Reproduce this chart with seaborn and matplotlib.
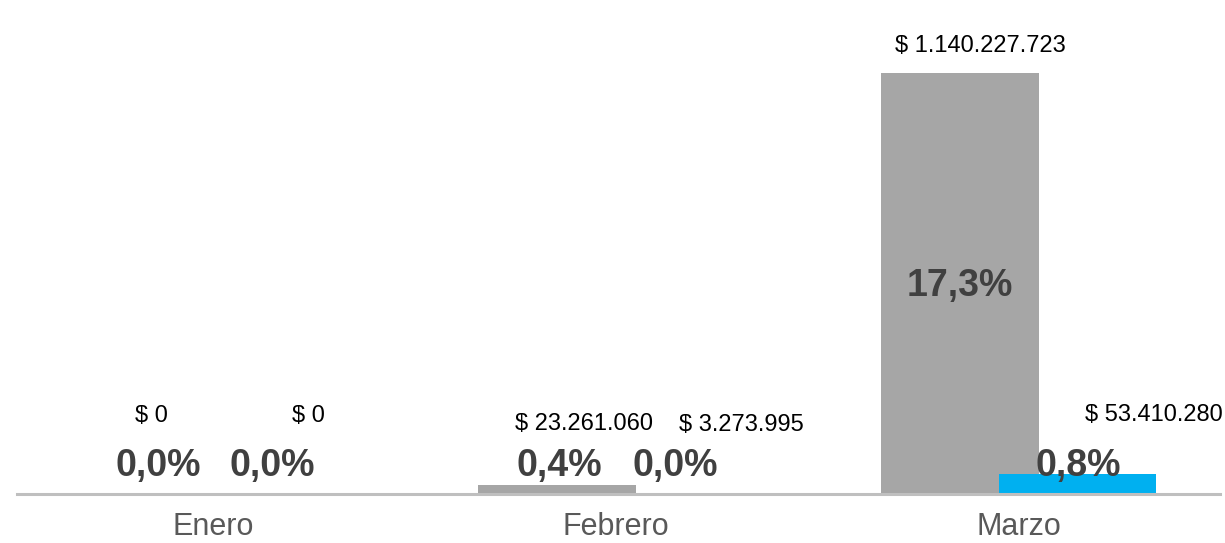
import pandas as pd
import seaborn as sns
import matplotlib.pyplot as plt

# --- datos ---
meses = ['Enero', 'Febrero', 'Marzo']
series = ['Serie 1', 'Serie 2']
valores_s1 = [0, 23261060, 1140227723]
valores_s2 = [0, 3273995, 53410280]
etiquetas_s1 = ['$ 0', '$ 23.261.060', '$ 1.140.227.723']
etiquetas_s2 = ['$ 0', '$ 3.273.995', '$ 53.410.280']
pct_s1 = ['0,0%', '0,4%', '17,3%']
pct_s2 = ['0,0%', '0,0%', '0,8%']

colores = ['#A6A6A6', '#00B0F0']

df = pd.DataFrame({
    'mes': meses * 2,
    'serie': [series[0]] * 3 + [series[1]] * 3,
    'valor': valores_s1 + valores_s2,
})

sns.set_style('white')
plt.rcParams['font.family'] = ['Liberation Sans', 'DejaVu Sans']

fig = plt.figure(figsize=(12.25, 5.43), dpi=100)
ax = fig.add_axes([17 / 1225, 1 - 494 / 543, 1203 / 1225, 494 / 543])

sns.barplot(data=df, x='mes', y='valor', hue='serie', palette=colores,
            width=0.585, saturation=1, legend=False, linewidth=0, ax=ax)

# barras superpuestas como en Excel (ancho mayor que el hueco)
ancho = 0.39
for cont in ax.containers:
    for p in cont:
        cx = p.get_x() + p.get_width() / 2
        p.set_width(ancho)
        p.set_x(cx - ancho / 2)
        p.set_edgecolor('none')

ax.set_xlim(-0.486, 2.499)
ax.set_ylim(0, 1337.7e6)

# desplazamientos de etiquetas (px) relativos al centro superior de cada barra
off_valor = [[(-2, 78), (27, 61), (20, 27)],
             [(37, 78), (67, 68), (76, 59)]]
y_pct = 84e6

for i, cont in enumerate(ax.containers):
    etiquetas = [etiquetas_s1, etiquetas_s2][i]
    pcts = [pct_s1, pct_s2][i]
    for j, p in enumerate(cont):
        cx = p.get_x() + p.get_width() / 2
        top = p.get_height()
        dx, dy = off_valor[i][j]
        ax.annotate(etiquetas[j], (cx, top), xytext=(dx, dy),
                    textcoords='offset pixels', ha='center', va='center',
                    fontsize=17, color='black', annotation_clip=False)
        ypct = top / 2 if top / 2 > y_pct else y_pct
        dxp = 4 if (i == 0 and j == 0) else (2 if (i == 0 and j == 1) else 0)
        ax.annotate(pcts[j], (cx, ypct), xytext=(dxp, -3),
                    textcoords='offset pixels', ha='center', va='center',
                    fontsize=27, fontweight='bold', color='#404040')

ax.set_xlabel('')
ax.set_ylabel('')
ax.set_yticks([])
ax.tick_params(axis='x', length=0, pad=13, labelsize=22, labelcolor='#595959')
for lado in ['top', 'right', 'left']:
    ax.spines[lado].set_visible(False)
ax.spines['bottom'].set_color('#BFBFBF')
ax.spines['bottom'].set_linewidth(2.2)
ax.patch.set_alpha(0)

fig.savefig('out.png', dpi=100)
